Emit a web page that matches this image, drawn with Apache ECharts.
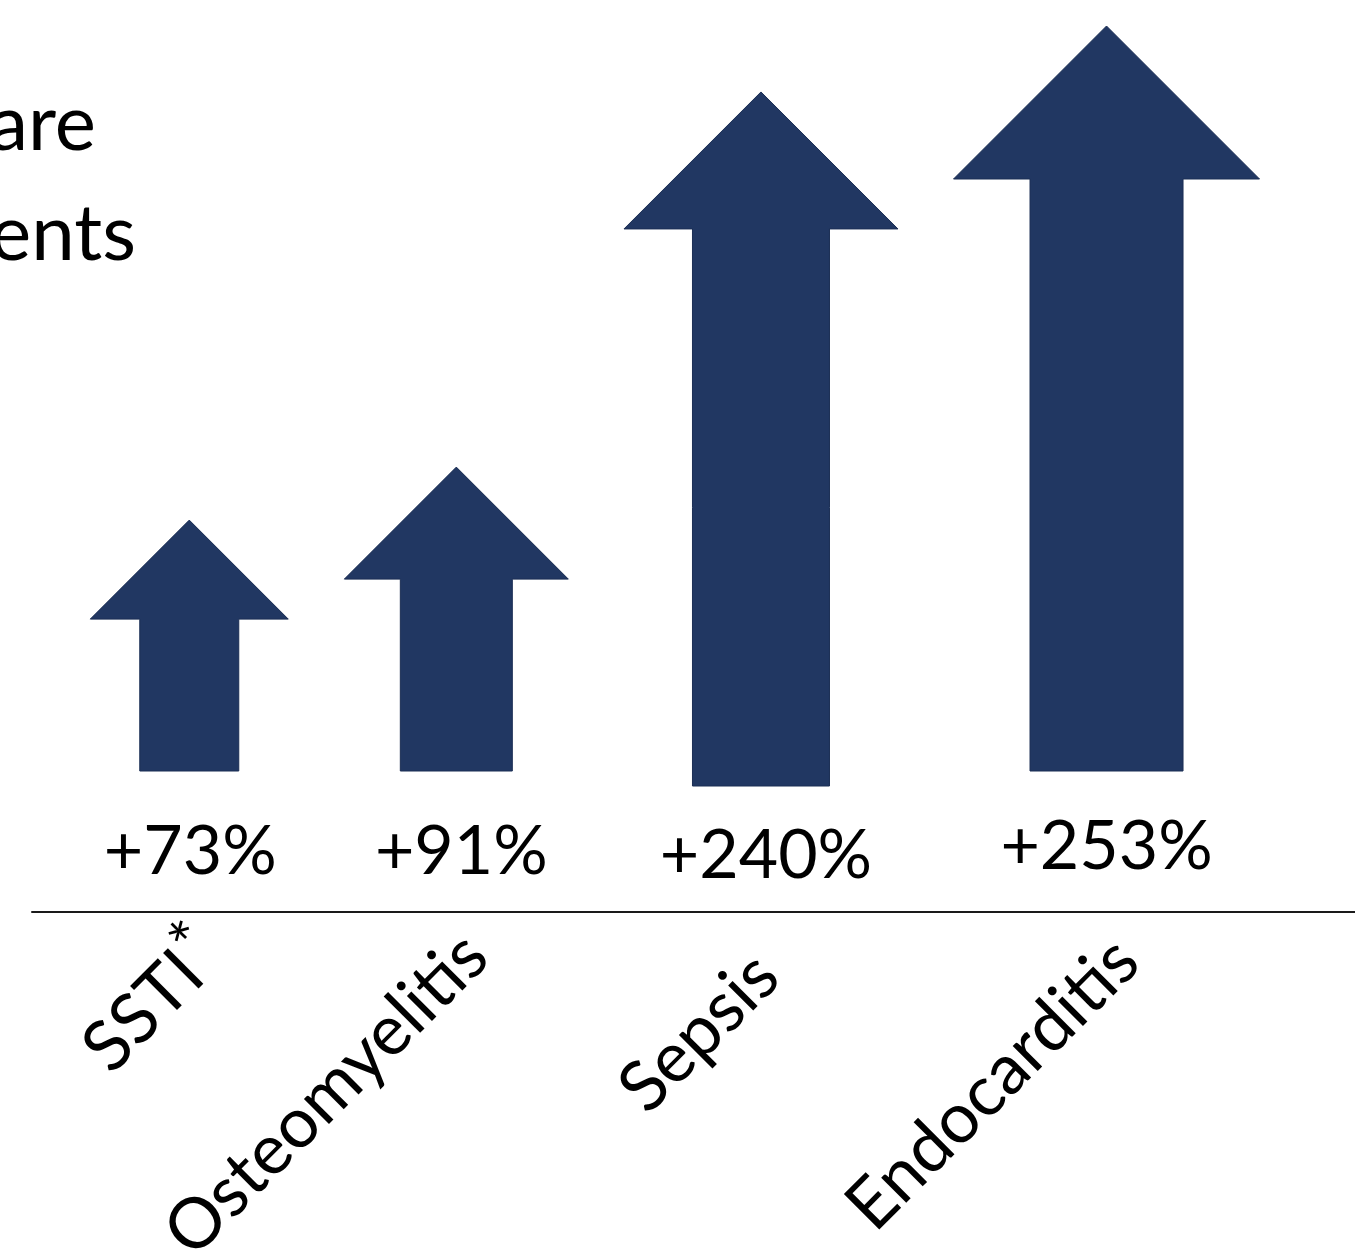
<!DOCTYPE html>
<html>
<head>
<meta charset="utf-8">
<script src="https://cdn.jsdelivr.net/npm/echarts@6/dist/echarts.min.js"></script>
<style>
  html, body { margin: 0; padding: 0; background: #ffffff; }
  #chart { width: 1355px; height: 1249px; }
</style>
</head>
<body>
<div id="chart"></div>
<script>
// ---------------- data ----------------
const categories   = ['SSTI', 'Osteomyelitis', 'Sepsis', 'Endocarditis'];
const footnoteMark = ['*', '', '', ''];
const increasePct  = [73, 91, 240, 253];
// arrow lengths as drawn in the picture (same scale, tallest arrow = 253)
const arrowLength  = [85.2, 103.2, 235.7, 253];
const titleLines   = ['are', 'ents'];

// ---------------- layout / style (not data) ----------------
const ARROW_COLOR = '#213762';
const FONT = 'Lato, "Noto Sans", sans-serif';
const LAYOUT = {
  dx:    [19.4, -19.3, -20.4, 19.4],   // horizontal nudge of each arrow from its category slot
  dy:    [0, 0, 15, 0],                // vertical nudge of arrow group
  size:  [99, 112, 137, 153],          // shaft width (= head height = half head width)
  pctDx: [1, 5, 5, 0],
  pctDy: [81, 81, 85, 76],
  catDx: [17, 14.7, 1, 15.5],
  catDy: [168, 169, 189, 174]
};

const seriesData = categories.map((c, i) => [i, arrowLength[i], increasePct[i]]);

const chart = echarts.init(document.getElementById('chart'), null, { renderer: 'canvas' });

function renderArrow(params, api) {
  const i = params.dataIndex;
  const zero = api.coord([api.value(0), 0]);
  const tip  = api.coord([api.value(0), api.value(1)]);
  const cx = zero[0] + LAYOUT.dx[i];
  const dy = LAYOUT.dy[i];
  const s  = LAYOUT.size[i];
  const by = zero[1] + dy;
  const ty = tip[1] + dy;
  const hb = ty + s;
  const pct = '+' + api.value(2) + '%';
  const catText = footnoteMark[i] ? '{m|' + categories[i] + '}{s|' + footnoteMark[i] + '}' : '{m|' + categories[i] + '}';
  return {
    type: 'group',
    children: [
      {
        type: 'polygon',
        shape: { points: [
          [cx, ty], [cx + s, hb], [cx + s / 2, hb], [cx + s / 2, by],
          [cx - s / 2, by], [cx - s / 2, hb], [cx - s, hb]
        ] },
        style: { fill: ARROW_COLOR, stroke: '#1b2e54', lineWidth: 1 }
      },
      {
        type: 'text',
        x: cx + LAYOUT.pctDx[i],
        y: zero[1] + LAYOUT.pctDy[i],
        style: {
          text: pct, fill: '#000', fontSize: 68, fontFamily: FONT,
          align: 'center', verticalAlign: 'middle'
        }
      },
      {
        type: 'text',
        x: cx + LAYOUT.catDx[i],
        y: zero[1] + LAYOUT.catDy[i],
        rotation: Math.PI / 4,
        style: {
          text: catText,
          align: 'right', verticalAlign: 'middle',
          rich: {
            m: { fontSize: 70, fontFamily: FONT, fill: '#000', lineHeight: 84, verticalAlign: 'bottom' },
            s: { fontSize: 64, fontFamily: FONT, fill: '#000', lineHeight: 60, verticalAlign: 'bottom', padding: [0, 0, 18, 0] }
          }
        }
      }
    ]
  };
}

const option = {
  backgroundColor: '#ffffff',
  animation: false,
  grid: [
    { left: 17, right: 115, top: 26, bottom: 478 },
    { left: 32, right: 0, top: 900, bottom: 337 }
  ],
  xAxis: [
    { type: 'category', gridIndex: 0, data: categories, show: false },
    { type: 'value', gridIndex: 1, min: 0, max: 1,
      axisLine: { show: true, onZero: false, lineStyle: { color: '#1a1a1a', width: 2 } },
      axisTick: { show: false }, axisLabel: { show: false }, splitLine: { show: false } }
  ],
  yAxis: [
    { type: 'value', gridIndex: 0, min: 0, max: 253, show: false },
    { type: 'value', gridIndex: 1, min: 0, max: 1, show: false }
  ],
  graphic: [
    { type: 'text', x: 96, y: 125, style: { text: titleLines[0], fontSize: 78, fontFamily: FONT, fill: '#000', align: 'right', verticalAlign: 'middle' } },
    { type: 'text', x: 136, y: 235, style: { text: titleLines[1], fontSize: 78, fontFamily: FONT, fill: '#000', align: 'right', verticalAlign: 'middle' } }
  ],
  series: [
    {
      type: 'custom',
      xAxisIndex: 0, yAxisIndex: 0,
      clip: false,
      encode: { x: 0, y: 1 },
      data: seriesData,
      renderItem: renderArrow
    }
  ]
};

chart.setOption(option);
</script>
</body>
</html>
